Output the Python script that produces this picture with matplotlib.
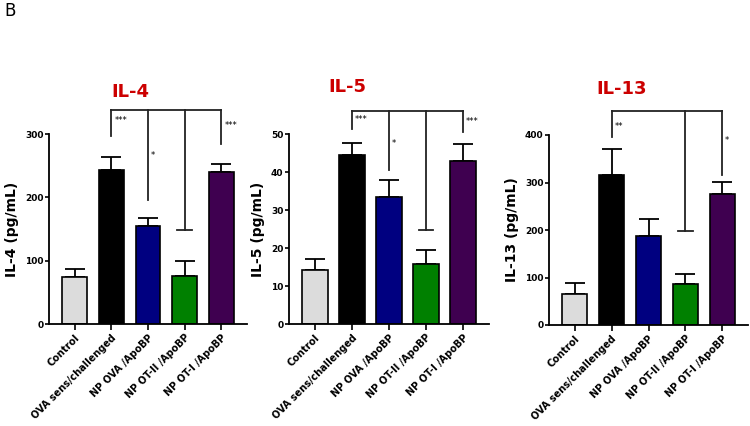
import numpy as np
import matplotlib.pyplot as plt

groups = ['Control', 'OVA sens/challenged', 'NP OVA /ApoBP', 'NP OT-II /ApoBP', 'NP OT-I /ApoBP']
colors = ['#dcdcdc', '#000000', '#000080', '#008000', '#3f0050']

# means and upper SEM
il4_mean = [75, 243, 155, 76, 240]
il4_sem = [12, 21, 13, 24, 12]
il5_mean = [14.1, 44.6, 33.3, 15.7, 42.9]
il5_sem = [3.0, 3.0, 4.7, 3.9, 4.5]
il13_mean = [65, 315, 188, 87, 275]
il13_sem = [23, 55, 36, 20, 26]

titles = ['IL-4', 'IL-5', 'IL-13']
ylabels = ['IL-4 (pg/mL)', 'IL-5 (pg/mL)', 'IL-13 (pg/mL)']
ymax = [300, 50, 400]
yticks = [[0, 100, 200, 300], [0, 10, 20, 30, 40, 50], [0, 100, 200, 300, 400]]

# bracket: top level, then (group index, drop-to value, star text, star y)
bracket_top = [338, 56, 451]
drops = [
    [(1, 297, '***', 322), (2, 196, '*', 266), (3, 148, None, None), (4, 284, '***', 313)],
    [(1, 51.4, '***', 53.8), (2, 40.4, '*', 47.5), (3, 24.7, None, None), (4, 50.4, '***', 53.3)],
    [(1, 395, '**', 418), (3, 198, None, None), (4, 316, '*', 388)],
]
title_pos = [(1.51, 1.22), (0.87, 1.25), (1.28, 1.24)]

# axes rectangles in pixels: left, bottom(y from top), right, top
rects = [(49, 324, 247, 134), (289, 324, 489, 134), (549, 325, 748, 135)]

fig = plt.figure(figsize=(7.5, 4.26), dpi=100)
fig.text(4 / 750, 1 - 11 / 426, 'B', fontsize=12, va='center', ha='left')

data = [(il4_mean, il4_sem), (il5_mean, il5_sem), (il13_mean, il13_sem)]
x = np.arange(5)
for i in range(3):
    l, b, r, t = rects[i]
    ax = fig.add_axes([l / 750, 1 - b / 426, (r - l) / 750, (b - t) / 426])
    mean, sem = data[i]
    ax.bar(x, mean, width=0.68, color=colors, edgecolor='black', linewidth=1.2, zorder=2)
    ax.errorbar(x, mean, yerr=[np.zeros(5), sem], fmt='none', ecolor='black',
                elinewidth=1.3, capsize=7, capthick=1.3, zorder=1)
    ax.set_xlim(-0.7, 4.7)
    ax.set_ylim(0, ymax[i])
    ax.set_yticks(yticks[i])
    ax.set_yticklabels([str(v) for v in yticks[i]], fontsize=6.5, fontweight='bold')
    ax.set_xticks(x)
    ax.set_xticklabels(groups, rotation=45, ha='right', rotation_mode='anchor',
                       fontsize=7, fontweight='bold')
    ax.tick_params(axis='both', length=3, width=1.2, pad=1)
    ax.tick_params(axis='x', length=4, pad=2)
    for s in ['top', 'right']:
        ax.spines[s].set_visible(False)
    for s in ['left', 'bottom']:
        ax.spines[s].set_linewidth(1.3)
    ax.set_ylabel(ylabels[i], fontsize=10, fontweight='bold', labelpad=4)

    top = bracket_top[i]
    xs = [d[0] for d in drops[i]]
    ax.plot([min(xs), max(xs)], [top, top], color='#222222', lw=1.3, clip_on=False)
    for gi, lo, star, sy in drops[i]:
        ax.plot([gi, gi], [top, lo], color='#222222', lw=1.3, clip_on=False)
        if star is None:
            ax.plot([gi - 0.2, gi + 0.2], [lo, lo], color='#222222', lw=1.3, clip_on=False)
        else:
            ax.text(gi + 0.08, sy, star, fontsize=6, ha='left', va='center')
    tx, ty = title_pos[i]
    ax.text(tx, ymax[i] * ty, titles[i], color='#cc0000',
            fontsize=13, fontweight='bold', ha='center', va='center')

fig.savefig('out.png', dpi=100)
